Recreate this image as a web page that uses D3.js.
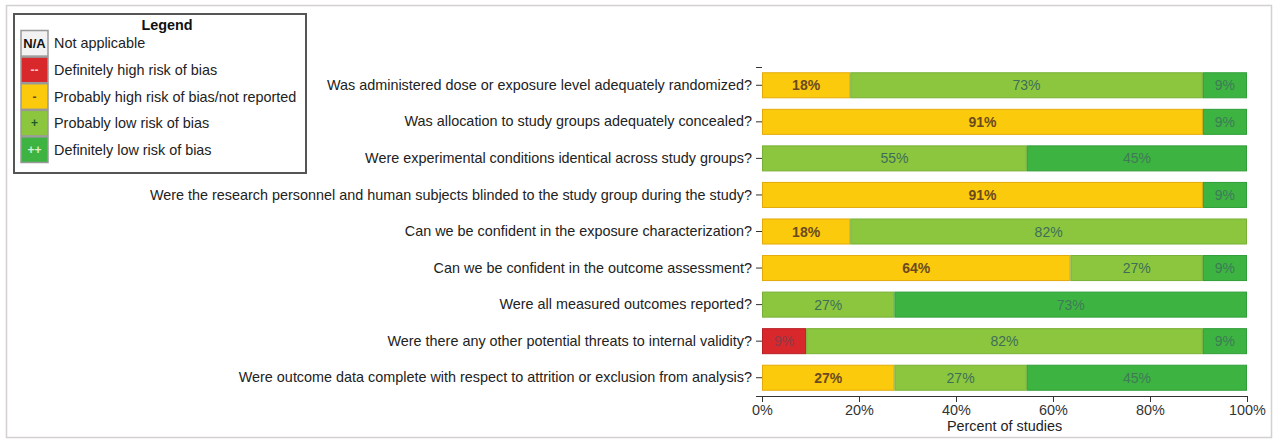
<!DOCTYPE html>
<html>
<head>
<meta charset="utf-8">
<script src="https://cdn.jsdelivr.net/npm/d3@7"></script>
<style>
  html, body { margin: 0; padding: 0; background: #fff; }
  svg { display: block; font-family: "Liberation Sans", Arial, sans-serif; }
</style>
</head>
<body>
<svg id="chart" width="1277" height="441"></svg>
<script>
// Risk-of-bias questions (top to bottom)
const questions = [
  "Was administered dose or exposure level adequately randomized?",
  "Was allocation to study groups adequately concealed?",
  "Were experimental conditions identical across study groups?",
  "Were the research personnel and human subjects blinded to the study group during the study?",
  "Can we be confident in the exposure characterization?",
  "Can we be confident in the outcome assessment?",
  "Were all measured outcomes reported?",
  "Were there any other potential threats to internal validity?",
  "Were outcome data complete with respect to attrition or exclusion from analysis?"
];

// Percent of studies per rating
const definitelyHigh = [0, 0, 0, 0, 0, 0, 0, 9.1, 0];
const probablyHigh   = [18.2, 90.9, 0, 90.9, 18.2, 63.6, 0, 0, 27.3];
const probablyLow    = [72.7, 0, 54.6, 0, 81.8, 27.3, 27.3, 81.8, 27.3];
const definitelyLow  = [9.1, 9.1, 45.4, 9.1, 0, 9.1, 72.7, 9.1, 45.4];

const xTicks = [0, 20, 40, 60, 80, 100];

const legendSymbols = ["N/A", "--", "-", "+", "++"];
const legendLabels = [
  "Not applicable",
  "Definitely high risk of bias",
  "Probably high risk of bias/not reported",
  "Probably low risk of bias",
  "Definitely low risk of bias"
];

const ratingKeys = ["dh", "ph", "pl", "dl"];
const fill   = { dh: "#d9282c", ph: "#fcca0c", pl: "#8cc63f", dl: "#3db442" };
const stroke = { dh: "#b81f24", ph: "#e3a90a", pl: "#78b036", dl: "#2f9e38" };
const labelColor = { dh: "#8a3a4a", ph: "#6b4a1f", pl: "#3e6e58", dl: "#3f7a56" };
const labelWeight = { dh: "normal", ph: "bold", pl: "normal", dl: "normal" };

const rows = questions.map((q, i) => ({
  q, dh: definitelyHigh[i], ph: probablyHigh[i], pl: probablyLow[i], dl: definitelyLow[i]
}));

const svg = d3.select("#chart");

// thin outer frame
svg.append("rect")
  .attr("x", 6.5).attr("y", 5.5).attr("width", 1265).attr("height", 432)
  .attr("fill", "none").attr("stroke", "#d4d0d0").attr("stroke-width", 1.5);

const x = d3.scaleLinear().domain([0, 100]).range([762, 1247]);
const y = d3.scaleBand().domain(questions).range([67, 396])
  .paddingInner(0.288).paddingOuter(0.144);

// stacked bars
const stack = d3.stack().keys(ratingKeys);
const series = stack(rows);

const layers = svg.append("g").selectAll("g")
  .data(series).join("g")
  .attr("fill", d => fill[d.key])
  .attr("stroke", d => stroke[d.key]);

layers.selectAll("rect")
  .data(d => d.filter(s => s[1] - s[0] > 0))
  .join("rect")
  .attr("x", s => x(s[0]) + 0.5)
  .attr("y", s => y(s.data.q) + 0.5)
  .attr("width", s => x(s[1]) - x(s[0]) - 1)
  .attr("height", y.bandwidth() - 1)
  .attr("stroke-width", 1);

// segment value labels
const labels = svg.append("g");
series.forEach(layer => {
  layer.filter(s => s[1] - s[0] > 0).forEach(s => {
    labels.append("text")
      .attr("x", x((s[0] + s[1]) / 2))
      .attr("y", y(s.data.q) + y.bandwidth() / 2)
      .attr("dy", "0.36em")
      .attr("text-anchor", "middle")
      .attr("font-size", 14)
      .attr("font-weight", labelWeight[layer.key])
      .attr("fill", labelColor[layer.key])
      .text(Math.round(s[1] - s[0]) + "%");
  });
});

// y axis: ticks and labels only, outer ticks kept
const yAxis = svg.append("g")
  .attr("transform", "translate(762,0)")
  .call(d3.axisLeft(y).tickSize(6).tickSizeOuter(0).tickPadding(4));
yAxis.select(".domain").remove();
yAxis.selectAll("text").attr("font-size", 14.4).attr("fill", "#222")
  .style("font-family", "'Liberation Sans', Arial, sans-serif");
yAxis.selectAll(".tick line").attr("stroke", "#333");
y.range().forEach(v => {
  yAxis.append("line").attr("x1", -6).attr("x2", 0)
    .attr("y1", v + 0.5).attr("y2", v + 0.5).attr("stroke", "#333");
});

// x axis
const xAxis = svg.append("g")
  .attr("transform", "translate(0,396)")
  .call(d3.axisBottom(x).tickValues(xTicks).tickFormat(d => d + "%").tickSize(6).tickSizeOuter(6));
xAxis.select(".domain").attr("stroke", "#333");
xAxis.selectAll(".tick line").attr("stroke", "#333");
xAxis.selectAll("text").attr("font-size", 14.4).attr("fill", "#333")
  .style("font-family", "'Liberation Sans', Arial, sans-serif");

svg.append("text")
  .attr("x", (x(0) + x(100)) / 2).attr("y", 431)
  .attr("text-anchor", "middle").attr("font-size", 14.4).attr("fill", "#222")
  .text("Percent of studies");

// legend
const legend = svg.append("g");
legend.append("rect")
  .attr("x", 14).attr("y", 14).attr("width", 292).attr("height", 159)
  .attr("fill", "#fff").attr("stroke", "#555").attr("stroke-width", 2);
legend.append("text")
  .attr("x", 167).attr("y", 30).attr("text-anchor", "middle")
  .attr("font-size", 14.4).attr("font-weight", "bold").attr("fill", "#111")
  .text("Legend");

const swatchFill = ["#f2f2f2", fill.dh, fill.ph, fill.pl, fill.dl];
const symbolColor = ["#111", "#f5c8c8", "#6b4a1f", "#1f5a2a", "#d8f0d0"];
const ly = d3.scaleBand().domain(d3.range(legendLabels.length)).range([30, 163]);

const items = legend.selectAll("g.item").data(legendLabels).join("g")
  .attr("class", "item")
  .attr("transform", (d, i) => `translate(0,${ly(i)})`);
items.append("rect")
  .attr("x", 21).attr("y", 0.5).attr("width", 27).attr("height", ly.bandwidth() - 1)
  .attr("fill", (d, i) => swatchFill[i]).attr("stroke", "#999").attr("stroke-width", 1.5);
items.append("text")
  .attr("x", 34.5).attr("y", ly.bandwidth() / 2).attr("dy", "0.36em")
  .attr("text-anchor", "middle")
  .attr("font-size", (d, i) => i === 0 ? 13 : 12)
  .attr("font-weight", "bold")
  .attr("fill", (d, i) => symbolColor[i])
  .text((d, i) => legendSymbols[i]);
items.append("text")
  .attr("x", 54).attr("y", ly.bandwidth() / 2).attr("dy", "0.36em")
  .attr("font-size", 14.4).attr("fill", "#222")
  .text(d => d);
</script>
</body>
</html>
